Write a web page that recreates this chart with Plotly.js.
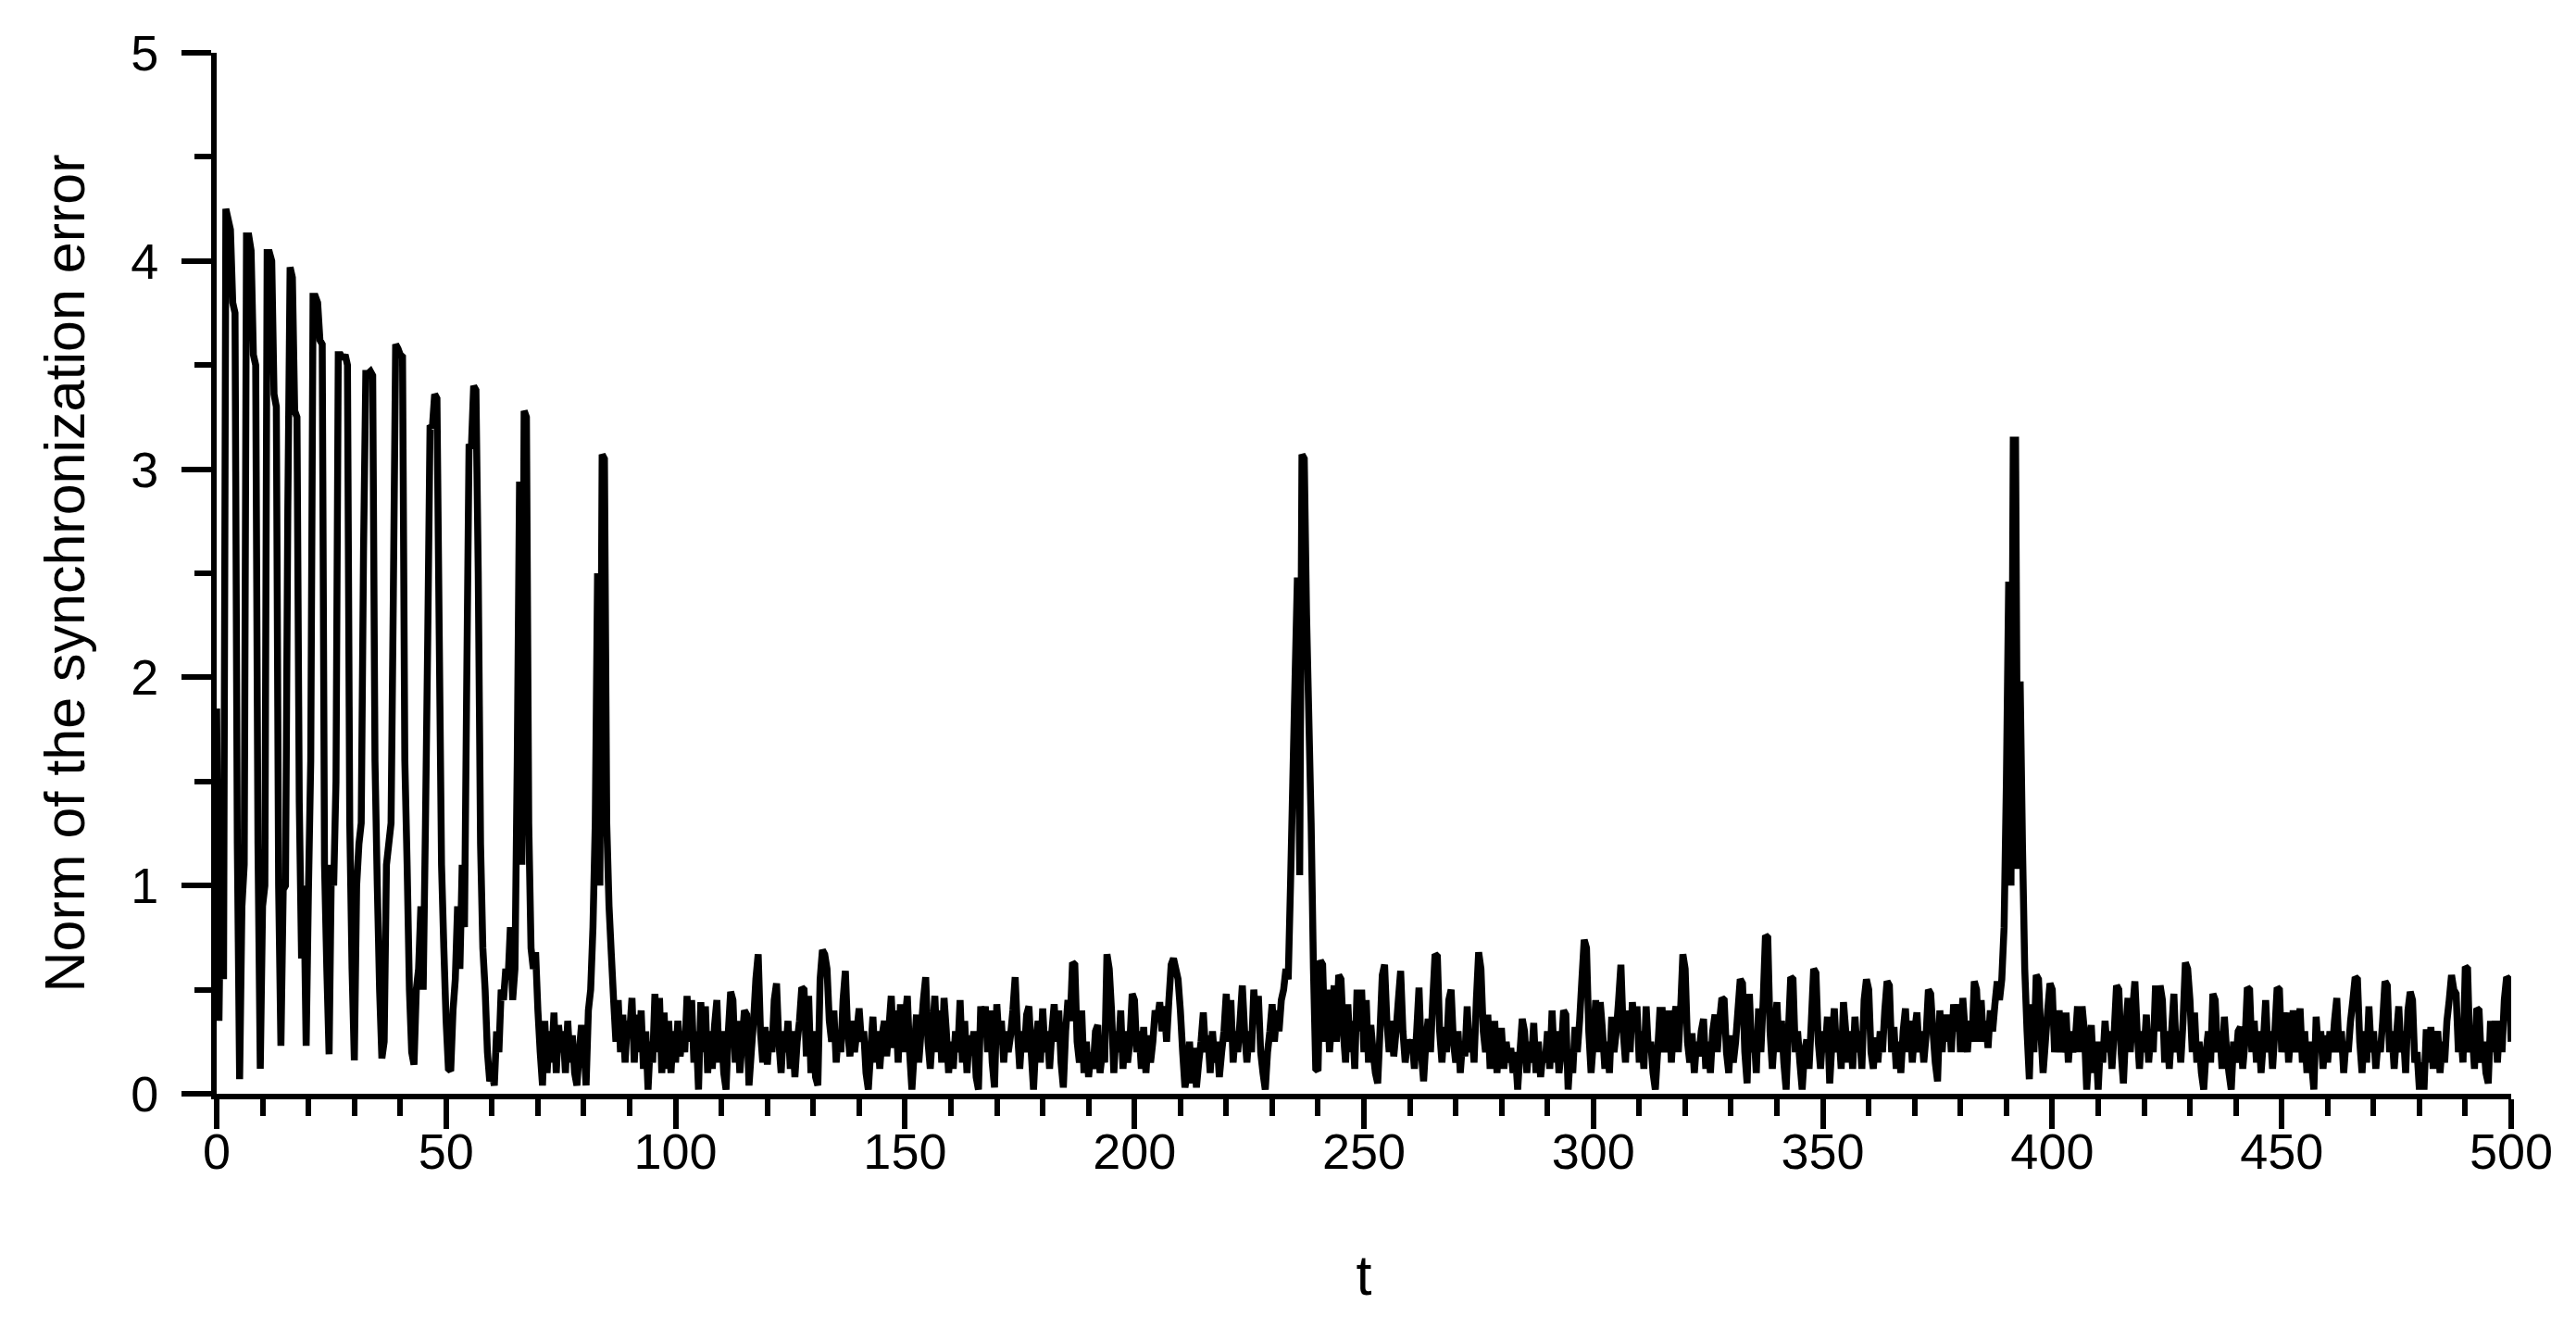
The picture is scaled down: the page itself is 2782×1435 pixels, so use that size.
<!DOCTYPE html>
<html>
<head>
<meta charset="utf-8">
<script src="https://cdn.plot.ly/plotly-3.0.1.min.js"></script>
<style>
    html, body { margin: 0; padding: 0; background: #fff; }
</style>
</head>
<body>
<div id="grafico" style="width:2782px;height:1435px"></div>
<script>
// paso de muestreo en t
const dt = 0.5;

// t = 0 .. 89.5 (fase transitoria con picos)
const errTransitorio = [
    1.85, 0.35, 1.25, 0.55, 4.25, 4.2, 4.15, 3.8, 3.75, 1.2, 0.07, 0.9, 1.1, 4.12, 4.12, 4.05, 3.55, 3.5, 1.2, 0.12,
    0.9, 1.0, 4.04, 4.04, 4.0, 3.36, 3.3, 1.0, 0.23, 0.98, 1.0, 2.8, 3.97, 3.92, 3.28, 3.25, 1.4, 0.65, 1.0, 0.23,
    0.98, 1.6, 3.83, 3.83, 3.8, 3.62, 3.6, 1.1, 0.6, 0.19, 1.1, 1.0, 1.5, 3.55, 3.55, 3.53, 3.55, 3.5, 1.3, 0.6,
    0.16, 1.0, 1.2, 1.3, 2.6, 3.46, 3.46, 3.47, 3.45, 1.6, 1.0, 0.5, 0.17, 0.25, 1.1, 1.2, 1.3, 2.4, 3.6, 3.58,
    3.55, 3.54, 1.6, 1.1, 0.5, 0.2, 0.14, 0.5, 0.6, 0.9, 0.5, 1.3, 2.2, 3.21, 3.2, 3.36, 3.34, 2.2, 1.1, 0.7,
    0.35, 0.12, 0.11, 0.4, 0.55, 0.9, 0.6, 1.1, 0.8, 2.0, 3.12, 3.1, 3.4, 3.38, 2.5, 1.2, 0.7, 0.5, 0.2, 0.06,
    0.1, 0.04, 0.3, 0.2, 0.5, 0.45, 0.6, 0.55, 0.8, 0.45, 0.6, 1.6, 2.94, 1.1, 3.28, 3.25, 1.3, 0.7, 0.6, 0.68,
    0.4, 0.2, 0.04, 0.35, 0.1, 0.3, 0.15, 0.39, 0.1, 0.33, 0.2, 0.3, 0.1, 0.35, 0.15, 0.28, 0.1, 0.04, 0.2, 0.33,
    0.25, 0.04, 0.4, 0.5, 0.8, 1.3, 2.5, 1.0, 3.07, 3.05, 1.3, 0.9, 0.67, 0.45, 0.25, 0.45, 0.2, 0.38, 0.15, 0.35
];

// t = 90 .. 189.5
const err090 = [
    0.3, 0.46, 0.15, 0.38, 0.2, 0.4, 0.12, 0.3, 0.02, 0.25, 0.15, 0.48, 0.2, 0.46, 0.1, 0.39, 0.12, 0.35, 0.1, 0.3,
    0.15, 0.35, 0.18, 0.3, 0.2, 0.47, 0.25, 0.45, 0.15, 0.3, 0.02, 0.44, 0.2, 0.42, 0.1, 0.3, 0.12, 0.33, 0.45, 0.15,
    0.3, 0.1, 0.02, 0.3, 0.49, 0.45, 0.15, 0.35, 0.1, 0.25, 0.4, 0.38, 0.04, 0.2, 0.35, 0.55, 0.67, 0.3, 0.15, 0.32,
    0.14, 0.3, 0.2, 0.45, 0.53, 0.25, 0.1, 0.3, 0.2, 0.35, 0.12, 0.3, 0.08, 0.25, 0.35, 0.51, 0.5, 0.18, 0.47, 0.1,
    0.3, 0.08, 0.04, 0.55, 0.69, 0.67, 0.6, 0.35, 0.25, 0.4, 0.15, 0.3, 0.2, 0.45, 0.59, 0.3, 0.18, 0.35, 0.2, 0.3,
    0.41, 0.25, 0.3, 0.1, 0.02, 0.2, 0.37, 0.15, 0.3, 0.12, 0.28, 0.35, 0.18, 0.32, 0.47, 0.22, 0.4, 0.15, 0.43, 0.2,
    0.35, 0.47, 0.2, 0.02, 0.2, 0.38, 0.15, 0.3, 0.45, 0.56, 0.25, 0.12, 0.3, 0.47, 0.2, 0.4, 0.15, 0.46, 0.3, 0.1,
    0.25, 0.12, 0.3, 0.2, 0.45, 0.15, 0.35, 0.1, 0.28, 0.2, 0.3, 0.08, 0.02, 0.42, 0.3, 0.42, 0.2, 0.4, 0.15, 0.03,
    0.43, 0.25, 0.35, 0.15, 0.3, 0.2, 0.28, 0.4, 0.56, 0.3, 0.12, 0.3, 0.2, 0.38, 0.42, 0.2, 0.02, 0.25, 0.35, 0.15,
    0.41, 0.2, 0.3, 0.12, 0.3, 0.43, 0.25, 0.4, 0.15, 0.03, 0.3, 0.45, 0.35, 0.63, 0.62, 0.25, 0.15, 0.4, 0.1, 0.25
];

// t = 190 .. 289.5 (pico en t ~ 237)
const err190 = [
    0.08, 0.2, 0.12, 0.3, 0.33, 0.1, 0.2, 0.15, 0.67, 0.6, 0.4, 0.1, 0.3, 0.2, 0.4, 0.12, 0.3, 0.15, 0.25, 0.48,
    0.45, 0.2, 0.3, 0.12, 0.32, 0.1, 0.28, 0.15, 0.25, 0.4, 0.35, 0.44, 0.3, 0.42, 0.25, 0.45, 0.62, 0.65, 0.6, 0.55,
    0.4, 0.2, 0.03, 0.1, 0.25, 0.05, 0.22, 0.03, 0.15, 0.25, 0.39, 0.2, 0.28, 0.1, 0.3, 0.15, 0.25, 0.08, 0.2, 0.3,
    0.48, 0.25, 0.45, 0.15, 0.3, 0.2, 0.35, 0.52, 0.3, 0.15, 0.3, 0.2, 0.5, 0.35, 0.47, 0.2, 0.1, 0.02, 0.2, 0.3,
    0.43, 0.25, 0.4, 0.3, 0.45, 0.5, 0.6, 0.55, 1.0, 1.5, 2.0, 2.48, 1.05, 3.07, 3.05, 2.3, 1.8, 1.3, 0.6, 0.12,
    0.11, 0.64, 0.62, 0.25, 0.5, 0.2, 0.35, 0.52, 0.25, 0.57, 0.55, 0.3, 0.15, 0.43, 0.2, 0.35, 0.12, 0.5, 0.3, 0.5,
    0.2, 0.45, 0.15, 0.33, 0.2, 0.1, 0.05, 0.3, 0.57, 0.62, 0.35, 0.2, 0.35, 0.18, 0.3, 0.45, 0.59, 0.3, 0.15, 0.26,
    0.2, 0.26, 0.12, 0.3, 0.51, 0.2, 0.06, 0.25, 0.36, 0.2, 0.45, 0.67, 0.66, 0.3, 0.15, 0.32, 0.2, 0.45, 0.5, 0.25,
    0.15, 0.3, 0.1, 0.25, 0.18, 0.42, 0.2, 0.3, 0.15, 0.45, 0.68, 0.6, 0.3, 0.2, 0.38, 0.12, 0.25, 0.35, 0.1, 0.3,
    0.3, 0.12, 0.25, 0.15, 0.22, 0.1, 0.2, 0.02, 0.2, 0.36, 0.3, 0.1, 0.25, 0.15, 0.34, 0.1, 0.25, 0.08, 0.2, 0.15
];

// t = 290 .. 389.5
const err290 = [
    0.3, 0.12, 0.4, 0.15, 0.3, 0.1, 0.2, 0.4, 0.38, 0.02, 0.2, 0.1, 0.32, 0.2, 0.35, 0.55, 0.74, 0.7, 0.3, 0.1,
    0.25, 0.45, 0.2, 0.44, 0.3, 0.12, 0.25, 0.1, 0.37, 0.2, 0.3, 0.45, 0.62, 0.3, 0.15, 0.4, 0.2, 0.44, 0.3, 0.42,
    0.15, 0.3, 0.12, 0.42, 0.2, 0.25, 0.1, 0.02, 0.2, 0.4, 0.4, 0.2, 0.3, 0.4, 0.15, 0.35, 0.42, 0.2, 0.4, 0.67,
    0.6, 0.25, 0.15, 0.29, 0.1, 0.25, 0.18, 0.3, 0.36, 0.12, 0.25, 0.1, 0.3, 0.38, 0.2, 0.35, 0.46, 0.45, 0.2, 0.1,
    0.28, 0.15, 0.25, 0.4, 0.55, 0.53, 0.2, 0.05, 0.48, 0.2, 0.3, 0.1, 0.41, 0.2, 0.45, 0.76, 0.75, 0.3, 0.12, 0.3,
    0.44, 0.2, 0.35, 0.15, 0.02, 0.3, 0.56, 0.55, 0.2, 0.3, 0.15, 0.02, 0.2, 0.26, 0.12, 0.35, 0.6, 0.58, 0.25, 0.12,
    0.3, 0.2, 0.37, 0.05, 0.25, 0.41, 0.2, 0.3, 0.12, 0.44, 0.3, 0.15, 0.3, 0.12, 0.37, 0.2, 0.3, 0.12, 0.45, 0.55,
    0.5, 0.2, 0.12, 0.27, 0.15, 0.3, 0.2, 0.4, 0.54, 0.52, 0.2, 0.32, 0.12, 0.25, 0.1, 0.3, 0.41, 0.2, 0.35, 0.15,
    0.3, 0.39, 0.2, 0.3, 0.15, 0.28, 0.5, 0.48, 0.3, 0.15, 0.06, 0.4, 0.2, 0.38, 0.25, 0.38, 0.2, 0.43, 0.3, 0.43,
    0.2, 0.46, 0.3, 0.2, 0.35, 0.25, 0.54, 0.5, 0.25, 0.45, 0.25, 0.35, 0.22, 0.4, 0.3, 0.43, 0.54, 0.45, 0.55, 0.8
];

// t = 390 .. 500 (pico en t ~ 392)
const err390 = [
    1.5, 2.46, 1.0, 3.14, 3.14, 1.08, 1.98, 1.2, 0.6, 0.3, 0.07, 0.43, 0.2, 0.57, 0.55, 0.3, 0.1, 0.25, 0.4, 0.53,
    0.5, 0.2, 0.3, 0.4, 0.2, 0.25, 0.39, 0.15, 0.3, 0.2, 0.25, 0.42, 0.2, 0.42, 0.3, 0.02, 0.2, 0.33, 0.1, 0.25,
    0.02, 0.25, 0.15, 0.35, 0.2, 0.3, 0.12, 0.3, 0.52, 0.5, 0.2, 0.05, 0.3, 0.46, 0.2, 0.4, 0.54, 0.3, 0.12, 0.3,
    0.2, 0.38, 0.15, 0.3, 0.2, 0.52, 0.3, 0.52, 0.45, 0.15, 0.3, 0.12, 0.3, 0.48, 0.2, 0.3, 0.15, 0.35, 0.63, 0.6,
    0.45, 0.2, 0.39, 0.15, 0.25, 0.1, 0.02, 0.2, 0.3, 0.15, 0.48, 0.45, 0.2, 0.3, 0.12, 0.37, 0.2, 0.1, 0.02, 0.25,
    0.15, 0.3, 0.32, 0.12, 0.25, 0.51, 0.5, 0.2, 0.35, 0.15, 0.3, 0.1, 0.25, 0.45, 0.2, 0.3, 0.12, 0.3, 0.51, 0.5,
    0.2, 0.3, 0.39, 0.15, 0.3, 0.4, 0.2, 0.3, 0.41, 0.15, 0.3, 0.1, 0.25, 0.15, 0.02, 0.37, 0.2, 0.3, 0.12, 0.28,
    0.15, 0.3, 0.2, 0.35, 0.46, 0.2, 0.3, 0.1, 0.25, 0.2, 0.35, 0.45, 0.56, 0.55, 0.25, 0.1, 0.3, 0.15, 0.42, 0.2,
    0.3, 0.12, 0.25, 0.2, 0.35, 0.54, 0.52, 0.2, 0.3, 0.12, 0.28, 0.42, 0.2, 0.3, 0.1, 0.4, 0.49, 0.45, 0.15, 0.2,
    0.02, 0.15, 0.02, 0.31, 0.15, 0.32, 0.12, 0.25, 0.3, 0.1, 0.25, 0.15, 0.35, 0.45, 0.57, 0.5, 0.48, 0.2, 0.3, 0.15,
    0.61, 0.6, 0.2, 0.3, 0.12, 0.41, 0.4, 0.15, 0.25, 0.1, 0.05, 0.35, 0.2, 0.35, 0.15, 0.35, 0.2, 0.45, 0.56, 0.55,
    0.25
];

// tramos: [t inicial, valores]
const tramos = [[0, errTransitorio], [90, err090], [190, err190], [290, err290], [390, err390]];

const t = [];
const norma = [];
tramos.forEach(([t0, valores]) => {
    valores.forEach((v, i) => {
        t.push(t0 + i * dt);
        norma.push(v);
    });
});

const fuente = { family: 'Liberation Sans, Arial, Helvetica, sans-serif', size: 54, color: '#000' };
const fuenteTitulo = { family: 'Liberation Sans, Arial, Helvetica, sans-serif', size: 61, color: '#000' };

const data = [{
    x: t,
    y: norma,
    type: 'scatter',
    mode: 'lines',
    line: { color: '#000', width: 7.5, simplify: false },
    hoverinfo: 'skip'
}];

const layout = {
    width: 2782,
    height: 1435,
    margin: { l: 234, r: 70, t: 57, b: 254 },
    paper_bgcolor: '#fff',
    plot_bgcolor: '#fff',
    showlegend: false,
    font: fuente,
    xaxis: {
        range: [0, 500],
        tickmode: 'linear',
        tick0: 0,
        dtick: 50,
        ticks: 'outside',
        ticklen: 32,
        tickwidth: 6,
        tickcolor: '#000',
        tickfont: fuente,
        ticklabelstandoff: -22,
        showline: true,
        linewidth: 6,
        linecolor: '#000',
        showgrid: false,
        zeroline: false,
        minor: { tick0: 0, dtick: 10, ticks: 'outside', ticklen: 18, tickwidth: 6, tickcolor: '#000', showgrid: false },
        title: { text: 't', font: fuenteTitulo, standoff: 86 }
    },
    yaxis: {
        range: [0, 5],
        tickmode: 'linear',
        tick0: 0,
        dtick: 1,
        ticks: 'outside',
        ticklen: 32,
        tickwidth: 6,
        tickcolor: '#000',
        tickfont: fuente,
        ticklabelstandoff: 14,
        showline: true,
        linewidth: 6,
        linecolor: '#000',
        showgrid: false,
        zeroline: false,
        minor: { tick0: 0, dtick: 0.5, ticks: 'outside', ticklen: 18, tickwidth: 6, tickcolor: '#000', showgrid: false },
        title: { text: 'Norm of the synchronization error', font: fuenteTitulo, standoff: 32 }
    }
};

Plotly.newPlot('grafico', data, layout, { staticPlot: true, displayModeBar: false });
</script>
</body>
</html>
